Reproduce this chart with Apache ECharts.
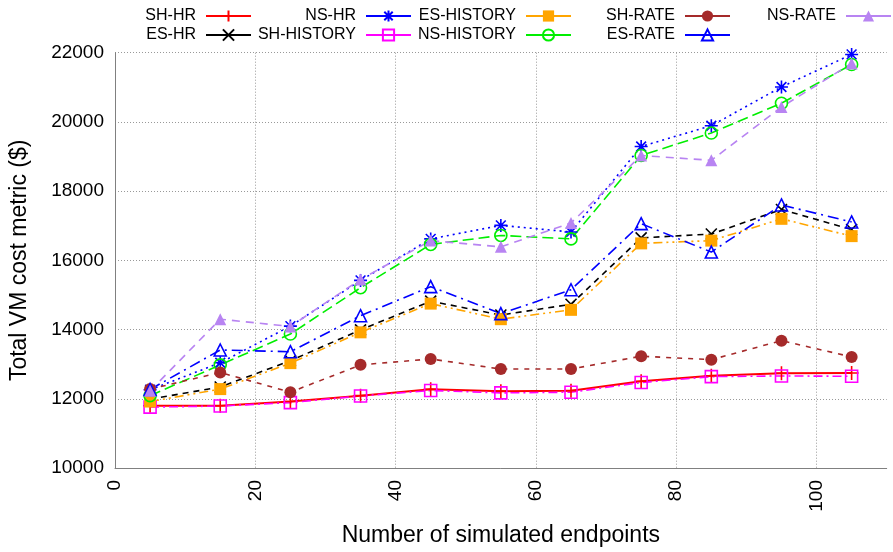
<!DOCTYPE html>
<html>
<head>
<meta charset="utf-8">
<script src="https://cdn.jsdelivr.net/npm/echarts@6/dist/echarts.min.js"></script>
<style>
html,body{margin:0;padding:0;background:#fff;}
#chart{width:893px;height:552px;}
</style>
</head>
<body>
<div id="chart"></div>
<script>
// ---- data ----
const endpoints = [5, 15, 25, 35, 45, 55, 65, 75, 85, 95, 105];
const shHR      = [11800, 11800, 11920, 12090, 12275, 12220, 12235, 12505, 12667, 12736, 12745];
const esHR      = [11990, 12340, 13100, 13990, 14820, 14420, 14730, 16650, 16760, 17470, 16890];
const nsHR      = [12260, 13040, 14100, 15420, 16620, 17010, 16820, 19290, 19890, 21010, 21950];
const shHistory = [11760, 11790, 11890, 12080, 12240, 12170, 12190, 12470, 12640, 12660, 12650];
const esHistory = [11920, 12280, 13030, 13920, 14750, 14300, 14570, 16490, 16570, 17200, 16700];
const nsHistory = [12090, 12980, 13870, 15210, 16460, 16720, 16620, 19030, 19680, 20540, 21660];
const shRate    = [12280, 12760, 12190, 12980, 13150, 12860, 12860, 13230, 13130, 13680, 13210];
const esRate    = [12270, 13410, 13360, 14400, 15240, 14460, 15150, 17060, 16240, 17600, 17110];
const nsRate    = [12230, 14300, 14090, 15450, 16570, 16390, 17080, 19030, 18890, 20430, 21690];
const yTicks = {min: 10000, max: 22000, step: 2000};
const xTicks = {min: 0, max: 110, step: 20};

const FONT = "'Liberation Sans', Arial, Helvetica, sans-serif";
const PLUS = 'path://M0,-1L0,1M-1,0L1,0';
const CROSS = 'path://M-1,-1L1,1M-1,1L1,-1';
const STAR = 'path://M0,-1L0,1M-1,0L1,0M-0.75,-0.75L0.75,0.75M-0.75,0.75L0.75,-0.75';

function pts(arr){ return endpoints.map((x,i)=>[x, arr[i]]); }

function mk(name, arr, color, dash, symbol, size, filled, width){
  return {
    name: name, type: 'line', data: pts(arr),
    symbol: symbol, symbolSize: size,
    showSymbol: true,
    lineStyle: {color: color, width: width || 1.6, type: dash},
    itemStyle: filled ? {color: color, borderColor: color, borderWidth: 0}
                      : {color: 'rgba(255,255,255,0)', borderColor: color, borderWidth: 1.6},
    emphasis: {disabled: true},
    animation: false
  };
}

const series = [
  mk('SH-HR', shHR, '#ff0000', 'solid', PLUS, 14, false, 2),
  mk('ES-HR', esHR, '#000000', [6,5], CROSS, 11, false),
  mk('NS-HR', nsHR, '#0000ff', [2,4], STAR, 13, false),
  mk('SH-HISTORY', shHistory, '#ff00ff', [9,4,2,4], 'rect', 12, false),
  mk('ES-HISTORY', esHistory, '#ffa500', [9,4,2,4,2,4], 'rect', 12, true),
  mk('NS-HISTORY', nsHistory, '#00ee00', [11,5], 'circle', 12, false),
  mk('SH-RATE', shRate, '#a52a2a', [5,6], 'circle', 12, true),
  mk('ES-RATE', esRate, '#0000ff', [11,5,2,5], 'triangle', 12, false),
  mk('NS-RATE', nsRate, '#b884f2', [8,6], 'triangle', 12, true)
];

function leg(names, right){
  return {
    data: names, orient: 'vertical', align: 'right',
    right: right, top: 8, padding: 0, itemGap: 3,
    itemWidth: 45, itemHeight: 14, selectedMode: false,
    lineStyle: {type: 'solid'},
    textStyle: {fontFamily: FONT, fontSize: 16, color: '#000', padding: [0, 5, 0, 0]}
  };
}

const chart = echarts.init(document.getElementById('chart'), null, {renderer: 'canvas'});
chart.setOption({
  animation: false,
  backgroundColor: '#fff',
  legend: [
    leg(['SH-HR', 'ES-HR'], 641),
    leg(['NS-HR', 'SH-HISTORY'], 481),
    leg(['ES-HISTORY', 'NS-HISTORY'], 321),
    leg(['SH-RATE', 'ES-RATE'], 162),
    leg(['NS-RATE'], 1)
  ],
  grid: {left: 114.5, right: 6.3, top: 52.7, bottom: 82.7, containLabel: false},
  xAxis: {
    type: 'value', min: xTicks.min, max: xTicks.max, interval: xTicks.step,
    name: 'Number of simulated endpoints', nameLocation: 'middle', nameGap: 56,
    nameTextStyle: {fontFamily: FONT, fontSize: 23, color: '#000'},
    axisLine: {show: true, lineStyle: {color: '#808080', width: 1}},
    axisTick: {show: false},
    axisLabel: {rotate: 90, margin: 12, fontFamily: FONT, fontSize: 19, color: '#000', showMaxLabel: false,
                formatter: v => String(v)},
    splitLine: {show: true, showMaxLine: false, lineStyle: {color: '#999', type: [1,2], width: 1}}
  },
  yAxis: {
    type: 'value', min: yTicks.min, max: yTicks.max, interval: yTicks.step,
    name: 'Total VM cost metric ($)', nameLocation: 'middle', nameGap: 84, nameRotate: 90,
    nameTextStyle: {fontFamily: FONT, fontSize: 23, color: '#000'},
    axisLine: {show: true, lineStyle: {color: '#808080', width: 1}},
    axisTick: {show: false},
    axisLabel: {margin: 11, fontFamily: FONT, fontSize: 19, color: '#000', formatter: v => String(v)},
    splitLine: {show: true, lineStyle: {color: '#999', type: [1,2], width: 1}}
  },
  series: series
});
</script>
</body>
</html>
